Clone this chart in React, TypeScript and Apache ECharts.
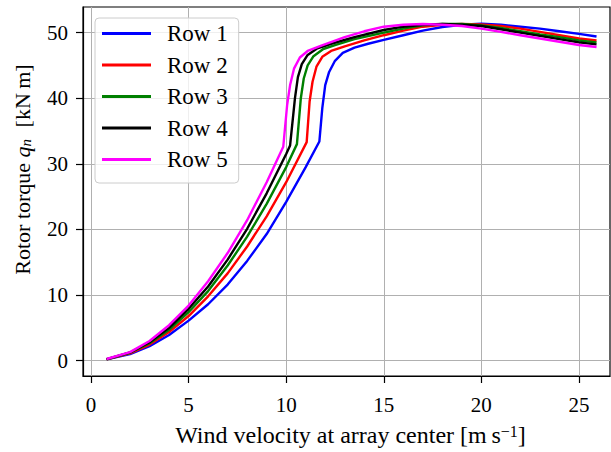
import React, { useEffect, useRef } from 'react';
import * as echarts from 'echarts';

const seriesNames = ['Row 1', 'Row 2', 'Row 3', 'Row 4', 'Row 5'];
const seriesColors = ['#0000ff', '#ff0000', '#008000', '#000000', '#ff00ff'];

const row1X = [0.8, 2, 3, 4, 5, 6, 7, 8, 9, 10, 11, 11.7, 11.85, 12.0, 12.2, 12.5, 12.9, 13.5, 14.2, 15, 16, 17, 18, 19, 20, 21, 22, 23, 24, 25, 25.9];
const row1Y = [0.2, 1.0, 2.2, 3.9, 6.1, 8.6, 11.6, 15.2, 19.3, 24.2, 29.5, 33.4, 38.5, 42.0, 44.0, 45.7, 46.9, 47.7, 48.3, 48.9, 49.6, 50.3, 50.85, 51.2, 51.35, 51.2, 50.9, 50.6, 50.2, 49.8, 49.4];

const row2X = [0.8, 2, 3, 4, 5, 6, 7, 8, 9, 10, 11.05, 11.2, 11.35, 11.55, 11.85, 12.3, 13, 14, 15, 16, 17, 18, 19, 20, 21, 22, 23, 24, 25, 25.9];
const row2Y = [0.2, 1.1, 2.45, 4.35, 6.8, 9.8, 13.3, 17.4, 22.0, 27.2, 33.3, 39.5, 42.5, 44.8, 46.3, 47.2, 47.9, 48.8, 49.6, 50.3, 50.9, 51.2, 51.3, 51.25, 51.0, 50.6, 50.1, 49.6, 49.1, 48.8];

const row3X = [0.8, 2, 3, 4, 5, 6, 7, 8, 9, 10, 10.55, 10.75, 10.9, 11.1, 11.4, 11.9, 12.5, 13.5, 15, 16, 17, 18, 19, 20, 21, 22, 23, 24, 25, 25.9];
const row3Y = [0.2, 1.2, 2.65, 4.7, 7.4, 10.6, 14.5, 18.9, 23.9, 29.5, 33.0, 40.0, 43.0, 45.0, 46.4, 47.5, 48.1, 49.0, 50.0, 50.6, 51.1, 51.3, 51.3, 51.1, 50.7, 50.2, 49.7, 49.3, 48.8, 48.5];

const row4X = [0.8, 2, 3, 4, 5, 6, 7, 8, 9, 10, 10.2, 10.45, 10.6, 10.8, 11.1, 11.6, 12.3, 13.5, 15, 16, 17, 18, 19, 20, 21, 22, 23, 24, 25, 25.9];
const row4Y = [0.22, 1.25, 2.8, 5.0, 7.9, 11.3, 15.4, 20.1, 25.5, 31.5, 32.8, 40.0, 43.2, 45.2, 46.6, 47.6, 48.3, 49.3, 50.4, 50.9, 51.2, 51.3, 51.2, 51.0, 50.5, 50.0, 49.5, 49.0, 48.5, 48.2];

const row5X = [0.8, 2, 3, 4, 5, 6, 7, 8, 9, 9.85, 10.05, 10.2, 10.4, 10.7, 11.1, 11.8, 13, 14, 15, 16, 17, 18, 19, 20, 21, 22, 23, 24, 25, 25.9];
const row5Y = [0.25, 1.3, 3.0, 5.4, 8.4, 12.1, 16.4, 21.4, 27.2, 32.6, 39.0, 42.0, 44.5, 46.2, 47.2, 48.0, 49.3, 50.2, 50.9, 51.2, 51.3, 51.2, 51.0, 50.6, 50.1, 49.6, 49.1, 48.6, 48.1, 47.8];

const rowsX = [row1X, row2X, row3X, row4X, row5X];
const rowsY = [row1Y, row2Y, row3Y, row4Y, row5Y];

const xTicks = [0, 5, 10, 15, 20, 25];
const yTicks = [0, 10, 20, 30, 40, 50];

const FONT = 'Liberation Serif';

export default function App() {
  const ref = useRef<HTMLDivElement>(null);
  useEffect(() => {
    if (!ref.current) return;
    const chart = echarts.init(ref.current, null, { renderer: 'svg' });
    const series = seriesNames.map((name, i) => ({
      name,
      type: 'line',
      data: rowsX[i].map((x, j) => [x, rowsY[i][j]]),
      showSymbol: false,
      symbol: 'none',
      smooth: false,
      lineStyle: { color: seriesColors[i], width: 2.4 },
      itemStyle: { color: seriesColors[i] },
      z: 3 + i,
    }));
    chart.setOption({
      animation: false,
      backgroundColor: '#ffffff',
      grid: {
        left: 83,
        right: 1,
        top: 7,
        bottom: 72,
        show: true,
        borderColor: '#000',
        borderWidth: 1.2,
        backgroundColor: 'transparent',
      },
      xAxis: {
        type: 'value',
        min: -0.41,
        max: 26.59,
        axisLine: { show: true, onZero: false, lineStyle: { color: '#000', width: 1.2 } },
        axisTick: { show: true, length: 7, customValues: xTicks, lineStyle: { color: '#000', width: 1.2 } },
        axisLabel: { customValues: xTicks, margin: 18, fontFamily: FONT, fontSize: 21, color: '#000' },
        splitLine: { show: true, lineStyle: { color: '#b0b0b0', width: 1 } },
        name: 'Wind velocity at array center [m\u2009s{sup|\u22121}]',
        nameLocation: 'middle',
        nameGap: 47,
        nameTextStyle: {
          fontFamily: FONT,
          fontSize: 24,
          color: '#000',
          padding: [0, 0, 0, 8],
          rich: { sup: { fontFamily: FONT, fontSize: 16, color: '#000', verticalAlign: 'top', padding: [0, 0, 6, 0] } },
        },
      },
      yAxis: {
        type: 'value',
        min: -2.34,
        max: 53.9,
        axisLine: { show: true, onZero: false, lineStyle: { color: '#000', width: 1.2 } },
        axisTick: { show: true, length: 7, customValues: yTicks, lineStyle: { color: '#000', width: 1.2 } },
        axisLabel: { customValues: yTicks, margin: 15, fontFamily: FONT, fontSize: 21, color: '#000' },
        splitLine: { show: true, lineStyle: { color: '#b0b0b0', width: 1 } },
        name: 'Rotor torque {it|q}{sub|n} [kN\u2009m]',
        nameLocation: 'middle',
        nameGap: 50,
        nameTextStyle: {
          fontFamily: FONT,
          fontSize: 22,
          color: '#000',
          padding: [0, 0, 0, 44],
          rich: {
            it: { fontFamily: FONT, fontSize: 22, fontStyle: 'italic', color: '#000' },
            sub: { fontFamily: FONT, fontSize: 15, fontStyle: 'italic', color: '#000', verticalAlign: 'bottom', padding: [6, 6, 0, 0] },
          },
        },
      },
      legend: {
        orient: 'vertical',
        left: 95,
        top: 18,
        padding: [4, 11, 12, 7],
        itemWidth: 49,
        itemHeight: 3,
        itemGap: 8.5,
        icon: 'rect',
        backgroundColor: 'rgba(255,255,255,0.8)',
        borderColor: '#cccccc',
        borderWidth: 1,
        borderRadius: 4,
        textStyle: { fontFamily: FONT, fontSize: 23, color: '#000', lineHeight: 20, padding: [0, 0, 0, 11] },
        data: seriesNames,
      },
      series,
    });
    return () => chart.dispose();
  }, []);
  return <div ref={ref} style={{ width: 611, height: 452, position: 'absolute', left: 0, top: 0 }} />;
}
